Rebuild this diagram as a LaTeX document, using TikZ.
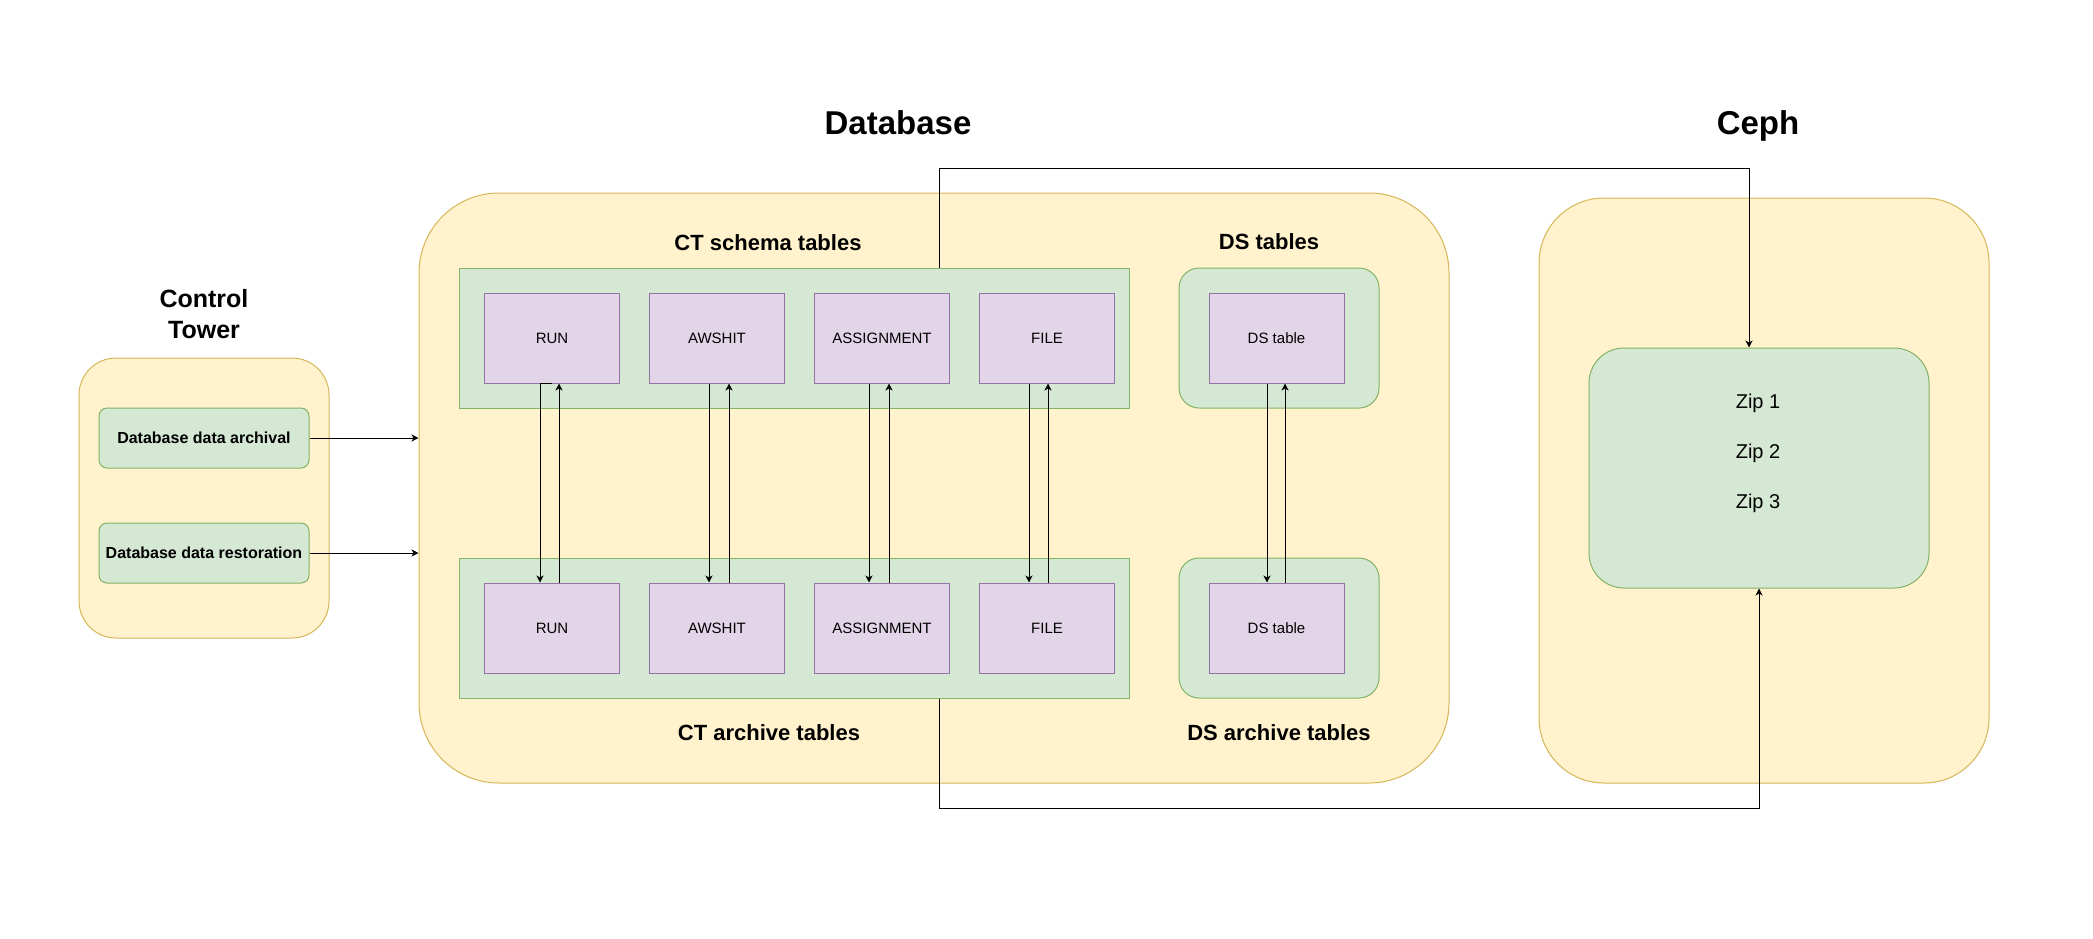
\documentclass[tikz,border=0pt]{standalone}
\usepackage{fontspec}
\setmainfont{Liberation Sans}
\usetikzlibrary{calc,arrows.meta}
\definecolor{boxyellow}{HTML}{FFF2CC}
\definecolor{edgeyellow}{HTML}{D6B656}
\definecolor{boxgreen}{HTML}{D5E8D4}
\definecolor{edgegreen}{HTML}{82B366}
\definecolor{boxpurple}{HTML}{E1D5E7}
\definecolor{edgepurple}{HTML}{9673A6}

\begin{document}
\begin{tikzpicture}[x=0.5pt,y=-0.5pt,line width=0.5pt,
  zone/.style={draw=edgeyellow,fill=boxyellow,rounded corners=#1,inner sep=0pt},
  grp/.style={draw=edgegreen,fill=boxgreen,inner sep=0pt},
  tbl/.style={draw=edgepurple,fill=boxpurple,minimum width=67.5pt,minimum height=45pt,inner sep=0pt,font=\fontsize{7.5}{9}\selectfont},
  head/.style={font=\bfseries\fontsize{16.5}{20}\selectfont,text depth=0pt},
  sub/.style={font=\bfseries\fontsize{11}{13}\selectfont},
  task/.style={grp,rounded corners=4pt,minimum width=105pt,minimum height=30pt,font=\bfseries\fontsize{8}{10}\selectfont},
  arr/.style={-{Stealth[length=3.5pt,width=3.5pt,inset=1pt]}}]
\useasboundingbox (0,0) rectangle (2093,938);

\node[zone=18.5pt,minimum width=125pt,minimum height=140pt] (ct) at (204,498) {};
\node[align=center,font=\bfseries\fontsize{12.5}{15.5}\selectfont] (cttitle) at (204,314) {Control\\Tower};
\node[task] (arch) at (204,438) {Database data archival};
\node[task] (rest) at (204,553) {Database data restoration};

\node[zone=40pt,minimum width=515pt,minimum height=295pt] (db) at (934,488) {};
\node[head] (dbtitle) at (898,123) {Database};
\node[sub] (ctschemalbl) at (768,243) {CT schema tables};
\node[sub] (ctarchivelbl) at (769,733) {CT archive tables};
\node[sub] (dsschemalbl) at (1269,242) {DS tables};
\node[sub] (dsarchivelbl) at (1279,733) {DS archive tables};
\node[grp,minimum width=335pt,minimum height=70pt] (ctschema) at (794,338) {};
\node[grp,minimum width=335pt,minimum height=70pt] (ctarchive) at (794,628) {};
\node[grp,rounded corners=10pt,minimum width=100pt,minimum height=70pt] (dsschema) at (1279,338) {};
\node[grp,rounded corners=10pt,minimum width=100pt,minimum height=70pt] (dsarchive) at (1279,628) {};
\foreach \t/\x/\txt in {run/552/RUN,awshit/717/AWSHIT,assign/882/ASSIGNMENT,file/1047/FILE,ds/1276.5/DS table}{
  \node[tbl] (s-\t) at (\x,338) {\txt};
  \node[tbl] (a-\t) at (\x,628) {\txt};
}

\node[zone=32.5pt,minimum width=225pt,minimum height=292.5pt] (ceph) at (1764,490.5) {};
\node[head] (cephtitle) at (1758,123) {Ceph};
\node[grp,rounded corners=17.5pt,minimum width=170pt,minimum height=120pt] (zip) at (1759,468) {};
\node[align=center,font=\fontsize{10}{25}\selectfont] (ziplist) at (1758,453.5) {Zip 1\\Zip 2\\Zip 3};

\draw[arr] (arch) -- (arch -| db.west);
\draw[arr] (rest) -- (rest -| db.west);
\draw[arr] (s-run.south) -| ($(a-run.north)+(-12,0)$);
\draw[arr] ($(a-run.north)+(7,0)$) -- ($(s-run.south)+(7,0)$);
\foreach \t/\dn/\up in {awshit/-8/12,assign/-13/7,file/-18/1,ds/-9.5/8.5}{
  \draw[arr] ($(s-\t.south)+(\dn,0)$) -- ($(a-\t.north)+(\dn,0)$);
  \draw[arr] ($(a-\t.north)+(\up,0)$) -- ($(s-\t.south)+(\up,0)$);
}

\coordinate (upbend) at (939.5,168);
\coordinate (lowbend) at (939.5,808);
\draw[arr] (ctschema.north -| upbend) -- (upbend) -| ($(zip.north)+(-10,0)$);
\draw[arr] (ctarchive.south -| lowbend) -- (lowbend) -| (zip.south);
\end{tikzpicture}
\end{document}
